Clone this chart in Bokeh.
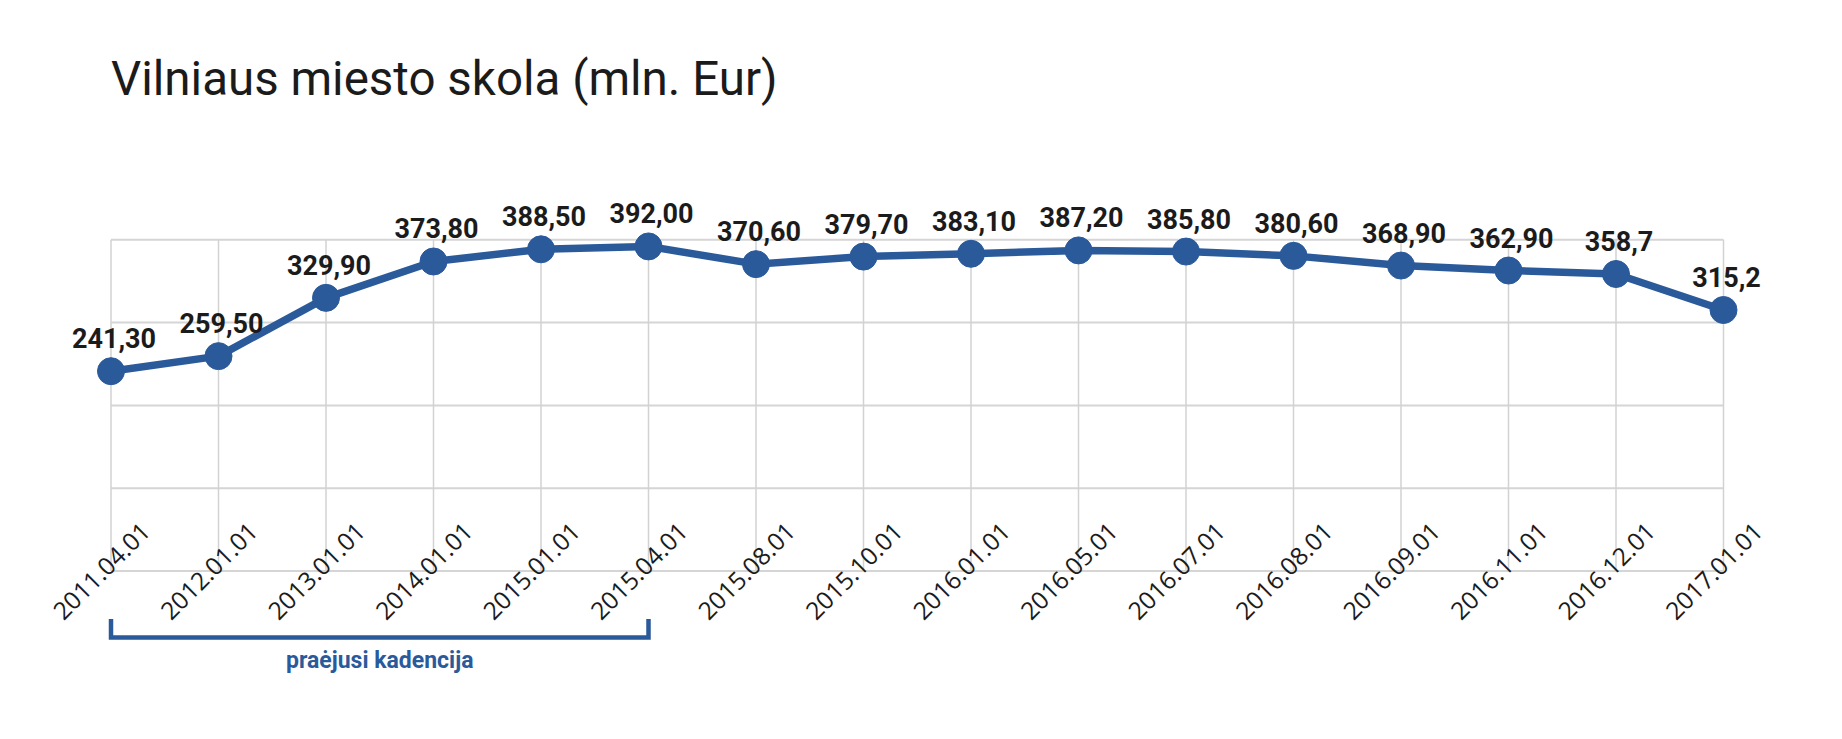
import math
from bokeh.plotting import figure
from bokeh.models import Range1d
from bokeh.core.properties import value
from bokeh.embed import file_html
from bokeh.resources import INLINE

# ---- data ----
dates = ["2011.04.01", "2012.01.01", "2013.01.01", "2014.01.01", "2015.01.01",
         "2015.04.01", "2015.08.01", "2015.10.01", "2016.01.01", "2016.05.01",
         "2016.07.01", "2016.08.01", "2016.09.01", "2016.11.01", "2016.12.01",
         "2017.01.01"]
debt = [241.30, 259.50, 329.90, 373.80, 388.50, 392.00, 370.60, 379.70, 383.10,
        387.20, 385.80, 380.60, 368.90, 362.90, 358.7, 315.2]
debt_labels = ["241,30", "259,50", "329,90", "373,80", "388,50", "392,00", "370,60",
               "379,70", "383,10", "387,20", "385,80", "380,60", "368,90", "362,90",
               "358,7", "315,2"]
y_ticks = [0, 100, 200, 300, 400]
term_start, term_end = 0, 5
term_label = "praėjusi kadencija"
title_text = "Vilniaus miesto skola (mln. Eur)"

# ---- layout (canvas pixels) ----
W, H = 1840, 737
x_first_px, x_last_px = 110.5, 1723.0
y_zero_px, y_top_px = 570.5, 239.3
idx = list(range(len(dates)))
n = len(dates) - 1
px_per_idx = (x_last_px - x_first_px) / n
px_per_val = (y_zero_px - y_top_px) / y_ticks[-1]
x0 = -x_first_px / px_per_idx
x1 = (W - x_first_px) / px_per_idx
y1 = y_zero_px / px_per_val
y0 = -(H - y_zero_px) / px_per_val

def below(px):
    return -px / px_per_val

BLUE = "#2b5a9b"
DARK = "#1b1b1b"

p = figure(width=W, height=H, output_backend="svg", toolbar_location=None,
           x_axis_location=None, y_axis_location=None,
           x_range=Range1d(x0, x1), y_range=Range1d(y0, y1),
           min_border=0, outline_line_color=None, background_fill_color="white")
p.grid.visible = False

# gridlines (bounded to the data extent)
p.segment(x0=[idx[0]] * len(y_ticks), x1=[idx[-1]] * len(y_ticks), y0=y_ticks, y1=y_ticks,
          line_color="#d5d5d5", line_width=2)
p.segment(x0=idx, x1=idx, y0=[y_ticks[0]] * len(idx), y1=[y_ticks[-1]] * len(idx),
          line_color="#d2d2d2", line_width=1.5)

p.line(idx, debt, line_color=BLUE, line_width=7.5)
p.scatter(idx, debt, size=27, fill_color=BLUE, line_color=BLUE)

p.text(idx, debt, text=debt_labels, text_align="center", text_baseline="alphabetic",
       x_offset=3, y_offset=-33, text_font=value("Roboto"), text_font_style="bold",
       text_font_size="27px", text_color=DARK)

p.text(idx, [y_ticks[0]] * len(idx), text=dates, angle=math.pi / 4,
       text_align="right", text_baseline="alphabetic", x_offset=35, y_offset=-44,
       text_font=value("Open Sans"), text_font_size="24.5px", text_color=DARK)

# bracket for previous term
bt, bb = below(48), below(66.5)
p.line([term_start, term_start, term_end, term_end], [bt, bb, bb, bt],
       line_color=BLUE, line_width=4.5, line_join="miter")
p.text([(term_start + term_end) / 2], [below(89.6)], text=[term_label],
       text_align="center", text_baseline="alphabetic",
       text_font=value("Roboto"), text_font_style="bold", text_font_size="23px",
       text_color=BLUE)

# title
p.text([idx[0]], [(y_zero_px - 78.0) / px_per_val], text=[title_text],
       text_align="left", text_baseline="alphabetic",
       text_font=value("Roboto"), text_font_size="47.5px", text_color=DARK)

open("out.html", "w").write(file_html(p, INLINE))
